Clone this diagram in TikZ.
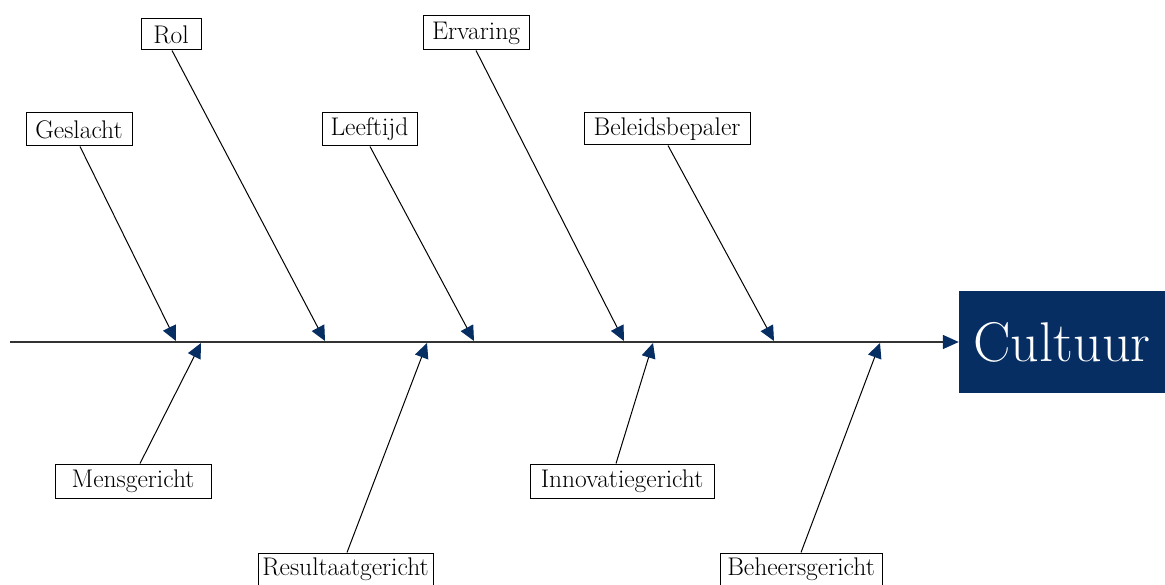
\documentclass[tikz,border=0pt]{standalone}
\usetikzlibrary{arrows.meta,calc}
\definecolor{navy}{RGB}{6,46,99}
\begin{document}
\begin{tikzpicture}[x=1pt,y=-1pt,
  lbl/.style={draw=black, line width=1pt, fill=white, inner sep=0pt, minimum height=33pt,
    font=\fontsize{25.5}{28}\selectfont, anchor=center},
  bone/.style={line width=1pt, draw=black, -{Triangle[length=15pt,width=14pt,fill=navy,color=navy]}},
  spine/.style={line width=1.5pt, draw=black!80, -{Triangle[length=16pt,width=14pt,fill=navy,color=navy]}},
  head/.style={fill=navy, text=white, inner sep=0pt, font=\fontsize{56}{62}\selectfont}
]
\useasboundingbox (0,0) rectangle (1165,585);
% effect box
\node[head, minimum width=206pt, minimum height=101pt] (cult) at (1062,342) {Cultuur};
% spine
\coordinate (start) at (10,342);
\draw[spine] (start) -- (cult.west);
% tip coordinates
\coordinate (tg) at (176,341);
\coordinate (tr) at (325,341);
\coordinate (tl) at (474,341);
\coordinate (te) at (624,341);
\coordinate (tb) at (774,341);
\coordinate (tm) at (201,343);
\coordinate (tre) at (427,343);
\coordinate (ti) at (653,343);
\coordinate (th) at (880,343);
% boxes
\node[lbl, minimum width=106pt] (ges) at (79,129.5) {Geslacht};
\node[lbl, minimum width=60pt, minimum height=31pt] (rol) at (171,34.5) {Rol};
\node[lbl, minimum width=95pt] (lee) at (369.5,129.5) {Leeftijd};
\node[lbl, minimum width=106pt, minimum height=34pt] (erv) at (476,33) {Ervaring};
\node[lbl, minimum width=166pt, minimum height=32pt] (bel) at (667,129) {Beleidsbepaler};
\node[lbl, minimum width=156pt, minimum height=34pt] (men) at (133,481) {Mensgericht};
\node[lbl, minimum width=175pt, minimum height=33pt] (res) at (345.5,569.5) {Resultaatgericht};
\node[lbl, minimum width=184pt, minimum height=34pt] (inn) at (622,481) {Innovatiegericht};
\node[lbl, minimum width=162pt, minimum height=33pt] (beh) at (801,569.5) {Beheersgericht};
% bones
\draw[bone] ($(ges.south)+(1,0)$) -- (tg);
\draw[bone] ($(rol.south)+(1,0)$) -- (tr);
\draw[bone] ($(lee.south)+(0.5,0)$) -- (tl);
\draw[bone] (erv.south) -- (te);
\draw[bone] ($(bel.south)+(1,0)$) -- (tb);
\draw[bone] ($(men.north)+(7,0)$) -- (tm);
\draw[bone] ($(res.north)+(1.5,0)$) -- (tre);
\draw[bone] ($(inn.north)+(-6,0)$) -- (ti);
\draw[bone] (beh.north) -- (th);
\end{tikzpicture}
\end{document}
